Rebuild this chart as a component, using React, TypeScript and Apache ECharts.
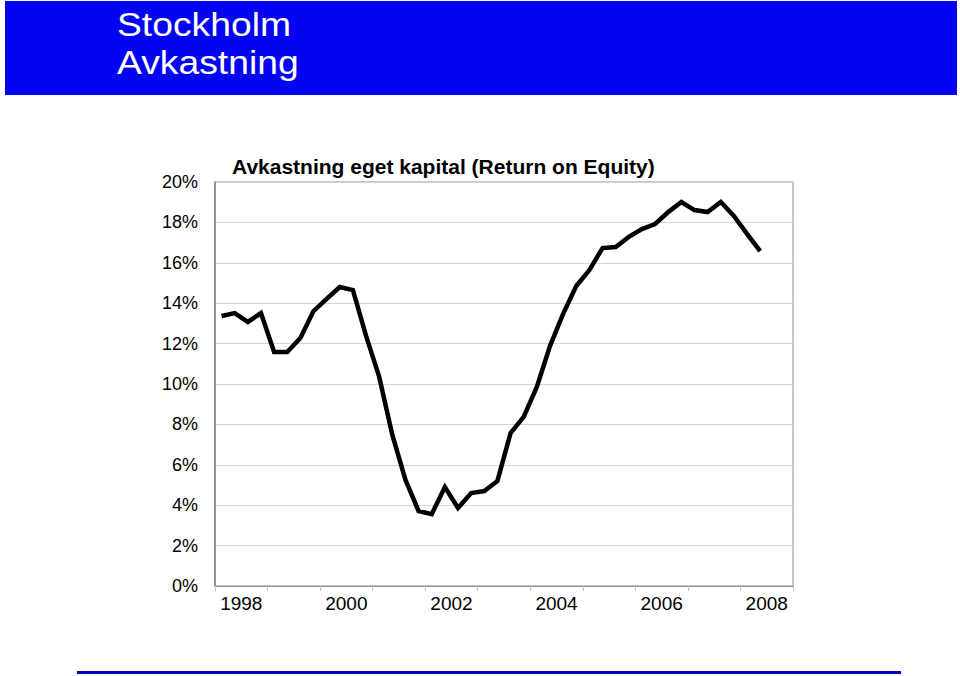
import React, { useEffect, useRef } from "react";
import * as echarts from "echarts";

// Years shown on the category axis
const years: string[] = ["1998", "1999", "2000", "2001", "2002", "2003", "2004", "2005", "2006", "2007", "2008"];
const quarters: string[] = ["Q1", "Q2", "Q3", "Q4"];
// Quarterly return on equity (%) from 1998 Q1 to 2008 Q2
const roe: number[] = [
  13.37, 13.51, 13.07, 13.51, 11.58, 11.58, 12.28, 13.61, 14.21, 14.8, 14.65,
  12.38, 10.35, 7.48, 5.25, 3.71, 3.56, 4.9, 3.86, 4.6, 4.7, 5.2,
  7.57, 8.37, 9.85, 11.88, 13.47, 14.85, 15.64, 16.73, 16.78, 17.28, 17.67,
  17.92, 18.51, 19.01, 18.61, 18.51, 19.01, 18.32, 17.43, 16.58,
];
const yTicks = { min: 0, max: 20, interval: 2 };
const headerLines: string[] = ["Stockholm", "Avkastning"];
const chartTitle = "Avkastning eget kapital (Return on Equity)";

const FONT = "'Liberation Sans', Arial, Helvetica, sans-serif";

export default function App() {
  const ref = useRef<HTMLDivElement>(null);
  useEffect(() => {
    if (!ref.current) return;
    const chart = echarts.init(ref.current, null, { renderer: "svg" });
    const quarterCats: string[] = [];
    years.forEach((y) => quarters.forEach((q) => quarterCats.push(`${y} ${q}`)));
    chart.setOption({
      animation: false,
      backgroundColor: "#ffffff",
      textStyle: { fontFamily: FONT },
      grid: {
        left: 215,
        right: 167,
        top: 182,
        height: 404,
        show: true,
        borderColor: "#8c8c8c",
        borderWidth: 1,
        backgroundColor: "transparent",
      },
      graphic: [
        {
          type: "rect",
          shape: { x: 5, y: 1, width: 952, height: 94 },
          style: { fill: "#0404F4" },
          silent: true,
        },
        {
          type: "text",
          x: 117,
          y: 24,
          scaleX: 1.13,
          style: {
            text: headerLines[0],
            fill: "#ffffff",
            font: `33px ${FONT}`,
            align: "left",
            verticalAlign: "middle",
          },
        },
        {
          type: "text",
          x: 117,
          y: 62,
          scaleX: 1.13,
          style: {
            text: headerLines[1],
            fill: "#ffffff",
            font: `33px ${FONT}`,
            align: "left",
            verticalAlign: "middle",
          },
        },
        {
          type: "text",
          x: 232,
          y: 166,
          style: {
            text: chartTitle,
            fill: "#000000",
            font: `bold 21px ${FONT}`,
            align: "left",
            verticalAlign: "middle",
          },
        },
        {
          type: "rect",
          shape: { x: 77, y: 671, width: 824, height: 3 },
          style: { fill: "#0000C0" },
          silent: true,
        },
      ],
      xAxis: [
        {
          type: "category",
          data: years,
          boundaryGap: true,
          axisLine: { show: true, lineStyle: { color: "#8c8c8c", width: 1 } },
          axisTick: { show: true, interval: 0, length: 5, lineStyle: { color: "#c0c0c0" } },
          axisLabel: { interval: 1, color: "#000000", fontSize: 19, margin: 8, fontFamily: FONT },
          splitLine: { show: false },
        },
        {
          type: "category",
          data: quarterCats,
          boundaryGap: true,
          show: false,
          position: "bottom",
        },
      ],
      yAxis: {
        type: "value",
        min: yTicks.min,
        max: yTicks.max,
        interval: yTicks.interval,
        axisLine: { show: true, lineStyle: { color: "#808080", width: 1.5 } },
        axisTick: { show: false },
        axisLabel: {
          formatter: "{value}%",
          color: "#000000",
          fontSize: 18,
          margin: 17,
          fontFamily: FONT,
        },
        splitLine: { show: true, lineStyle: { color: "#d4d4d4", width: 1 } },
      },
      series: [
        {
          type: "line",
          xAxisIndex: 1,
          data: roe,
          showSymbol: false,
          symbol: "none",
          lineStyle: { color: "#000000", width: 4.5, join: "miter" },
          z: 5,
        },
      ],
    });
    return () => chart.dispose();
  }, []);
  return (
    <div
      ref={ref}
      style={{ position: "absolute", left: 0, top: 0, width: 960, height: 676 }}
    />
  );
}
